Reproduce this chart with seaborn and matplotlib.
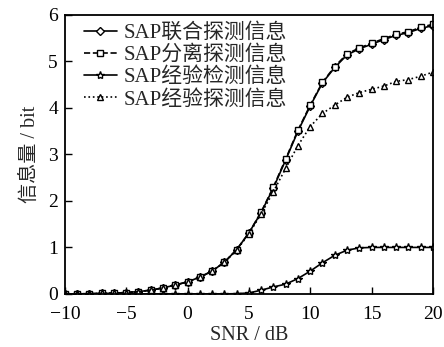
import numpy as np
import pandas as pd
import matplotlib
matplotlib.use("Agg")
import matplotlib.pyplot as plt
import seaborn as sns

snr = list(range(-10, 21))
joint = [0.0, 0.0, 0.005, 0.01, 0.015, 0.03, 0.05, 0.08, 0.13, 0.19, 0.26,
         0.36, 0.49, 0.68, 0.95, 1.31, 1.75, 2.28, 2.88, 3.50, 4.04,
         4.54, 4.87, 5.14, 5.27, 5.37, 5.47, 5.56, 5.62, 5.71, 5.77]
separate = [0.0, 0.0, 0.005, 0.01, 0.015, 0.03, 0.05, 0.08, 0.13, 0.19, 0.26,
            0.36, 0.49, 0.68, 0.95, 1.31, 1.76, 2.30, 2.90, 3.52, 4.06,
            4.55, 4.89, 5.16, 5.29, 5.39, 5.49, 5.58, 5.64, 5.73, 5.80]
emp_detect = [0.0, 0.0, 0.0, 0.0, 0.0, 0.0, 0.0, 0.0, 0.0, 0.0, 0.0,
              0.0, 0.0, 0.0, 0.005, 0.02, 0.08, 0.15, 0.21, 0.33, 0.49,
              0.67, 0.83, 0.94, 0.99, 1.0, 1.0, 1.0, 1.0, 1.0, 1.0]
emp_explore = [0.0, 0.0, 0.005, 0.01, 0.015, 0.03, 0.05, 0.08, 0.13, 0.19, 0.26,
               0.36, 0.49, 0.68, 0.94, 1.29, 1.72, 2.20, 2.70, 3.19, 3.60,
               3.88, 4.06, 4.23, 4.33, 4.40, 4.47, 4.57, 4.61, 4.68, 4.77]

labels = ["SAP联合探测信息", "SAP分离探测信息", "SAP经验检测信息", "SAP经验探测信息"]
series = [joint, separate, emp_detect, emp_explore]
markers = ["D", "s", "*", "^"]
msizes = [4, 4.5, 6, 5]
lstyles = ["-", "--", "-", ":"]

sns.set_style("ticks")
fam = ["Liberation Serif", "Noto Sans CJK SC"]
plt.rcParams["font.family"] = fam
plt.rcParams["axes.unicode_minus"] = True

fig = plt.figure(figsize=(4.44, 3.47), dpi=100)
ax = fig.add_axes([0.146, 0.153, 0.829, 0.804])

for lab, vals, mk, ms, ls in zip(labels, series, markers, msizes, lstyles):
    df = pd.DataFrame({"SNR": snr, "val": vals})
    sns.lineplot(data=df, x="SNR", y="val", ax=ax, color="black", marker=mk,
                 markersize=ms, markerfacecolor="white", markeredgecolor="black",
                 markeredgewidth=1.0, linestyle=ls, linewidth=1.2, label=lab)

ax.set_xlim(-10, 20)
ax.set_ylim(0, 6)
ax.set_xticks([-10, -5, 0, 5, 10, 15, 20])
ax.set_yticks([0, 1, 2, 3, 4, 5, 6])
ax.tick_params(direction="in", length=5, width=1.0, labelsize=14, colors="black")
ax.tick_params(axis="x", pad=9)
ax.tick_params(axis="y", pad=5)
for s in ax.spines.values():
    s.set_color("black")
    s.set_linewidth(1.3)
ax.set_xlabel("SNR / dB", fontsize=14.5, family=fam, labelpad=2)
ax.set_ylabel("信息量 / bit", fontsize=14.5, family=fam, labelpad=6)
leg = ax.legend(loc="upper left", bbox_to_anchor=(0.04, 0.985), frameon=False,
                fontsize=15, handlelength=1.6, handletextpad=0.3,
                labelspacing=0.12, borderaxespad=0.0, borderpad=0.2)
for t in leg.get_texts():
    t.set_family(fam)

fig.savefig("out.png", dpi=100)
